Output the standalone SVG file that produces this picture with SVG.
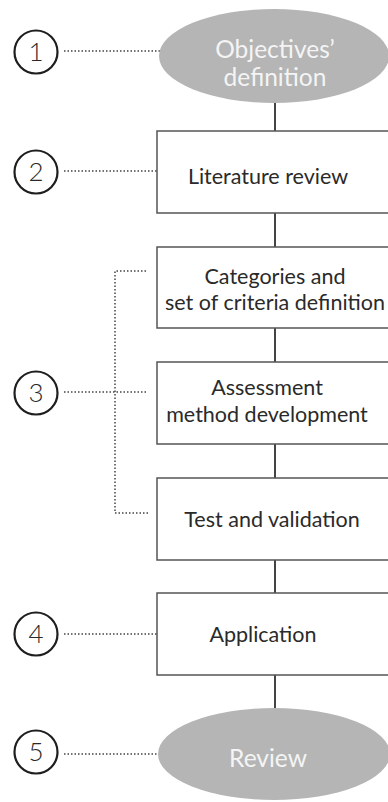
<svg xmlns="http://www.w3.org/2000/svg" width="388" height="802" viewBox="0 0 388 802">
<style>
.box{fill:#fff;stroke:#555;stroke-width:1.5}
.ell{fill:#b5b5b5;stroke:none}
.num{fill:#fff;stroke:#1e1e1e;stroke-width:2.2}
.dot{fill:none;stroke:#444;stroke-width:1.5;stroke-dasharray:1.5 2}
.con{fill:none;stroke:#444;stroke-width:2}
.t{font-family:Lato,"Open Sans",sans-serif;font-size:21.5px;fill:#2a2a2a;text-anchor:middle}
.te{font-family:Lato,"Open Sans",sans-serif;font-size:24.5px;fill:#f4f4f4;text-anchor:middle}
.n{font-family:Lato,"Open Sans",sans-serif;font-size:26px;font-weight:300;fill:#2a2a2a;text-anchor:middle}
</style>
<rect width="388" height="802" fill="#fff"/>
<g id="connectors">
<line class="con" x1="275" y1="100" x2="275" y2="131"/>
<line class="con" x1="275" y1="213" x2="275" y2="247"/>
<line class="con" x1="275" y1="328" x2="275" y2="362"/>
<line class="con" x1="275" y1="444" x2="275" y2="478"/>
<line class="con" x1="275" y1="560" x2="275" y2="593"/>
<line class="con" x1="275" y1="675" x2="275" y2="710"/>
<line class="dot" x1="64" y1="51" x2="160" y2="51"/>
<line class="dot" x1="64" y1="171" x2="157" y2="171"/>
<line class="dot" x1="64" y1="392" x2="148" y2="392"/>
<polyline class="dot" points="146,271 115,271 115,513 148,513"/>
<line class="dot" x1="64" y1="634" x2="157" y2="634"/>
<line class="dot" x1="64" y1="754" x2="158" y2="754"/>
</g>
<g id="n1"><ellipse class="ell" cx="274" cy="56" rx="115" ry="47"/><text class="te" x="275" y="58">Objectives’</text><text class="te" x="275" y="85.5">definition</text></g>
<g id="n2"><rect class="box" x="157" y="131" width="240" height="82"/><text class="t" x="268" y="184">Literature review</text></g>
<g id="n3"><rect class="box" x="157" y="247" width="240" height="81"/><text class="t" x="275" y="284">Categories and</text><text class="t" x="275" y="310">set of criteria definition</text></g>
<g id="n4"><rect class="box" x="157" y="362" width="240" height="82"/><text class="t" x="267" y="395">Assessment</text><text class="t" x="267" y="422">method development</text></g>
<g id="n5"><rect class="box" x="157" y="478" width="240" height="82"/><text class="t" x="272" y="527">Test and validation</text></g>
<g id="n6"><rect class="box" x="157" y="593" width="240" height="82"/><text class="t" x="263" y="642">Application</text></g>
<g id="n7"><ellipse class="ell" cx="274" cy="754" rx="116" ry="46"/><text class="te" x="268" y="767">Review</text></g>
<g id="c1"><circle class="num" cx="36" cy="52" r="21.5"/><text class="n" x="36" y="61">1</text></g>
<g id="c2"><circle class="num" cx="36" cy="172" r="21.5"/><text class="n" x="36" y="181">2</text></g>
<g id="c3"><circle class="num" cx="36" cy="393" r="21.5"/><text class="n" x="36" y="402">3</text></g>
<g id="c4"><circle class="num" cx="36" cy="634" r="21.5"/><text class="n" x="36" y="643">4</text></g>
<g id="c5"><circle class="num" cx="36" cy="752" r="21.5"/><text class="n" x="36" y="761">5</text></g>
</svg>
